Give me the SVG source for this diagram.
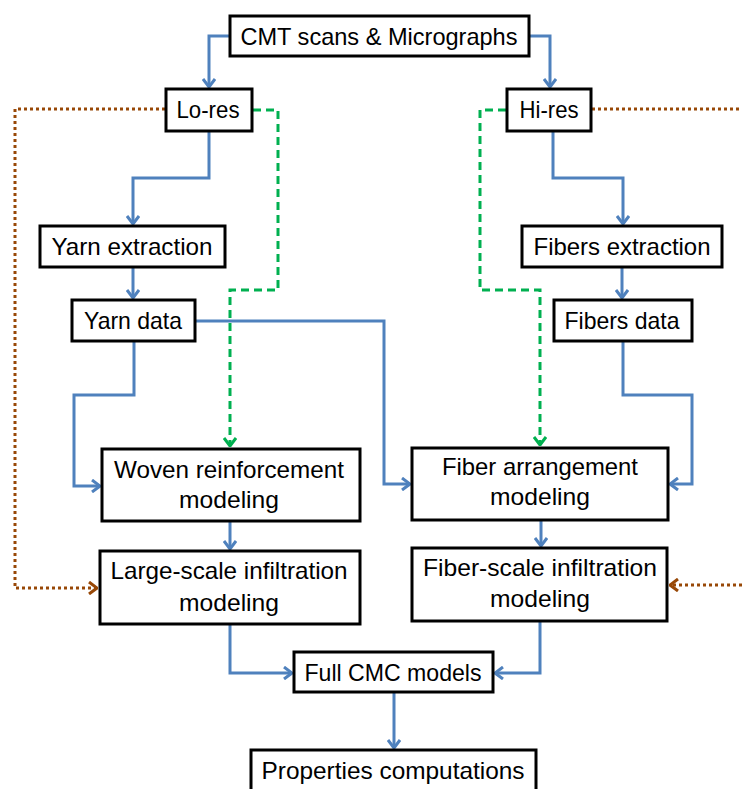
<svg xmlns="http://www.w3.org/2000/svg" width="742" height="789" viewBox="0 0 742 789">
<style>
.box{fill:#fff;stroke:#000;stroke-width:3}
.t{font-family:"Liberation Sans",Arial,sans-serif;font-size:24px;fill:#000;text-anchor:middle}
.b{fill:none;stroke:#4F81BD;stroke-width:3}
.g{fill:none;stroke:#00B050;stroke-width:3;stroke-dasharray:8,5}
.o{fill:none;stroke:#984807;stroke-width:3;stroke-dasharray:3,3}
</style>
<defs>
<marker id="ab" markerUnits="userSpaceOnUse" viewBox="0 0 10 14" markerWidth="10" markerHeight="14" refX="9" refY="7" orient="auto"><path d="M1,1 L9,7 L1,13" fill="none" stroke="#4F81BD" stroke-width="3"/></marker>
<marker id="ag" markerUnits="userSpaceOnUse" viewBox="0 0 10 14" markerWidth="10" markerHeight="14" refX="9" refY="7" orient="auto"><path d="M1,1 L9,7 L1,13" fill="none" stroke="#00B050" stroke-width="3"/></marker>
<marker id="ao" markerUnits="userSpaceOnUse" viewBox="0 0 10 14" markerWidth="10" markerHeight="14" refX="9" refY="7" orient="auto"><path d="M1,1 L9,7 L1,13" fill="none" stroke="#984807" stroke-width="3"/></marker>
</defs>
<rect width="742" height="789" fill="#fff"/>
<g id="connectors">
<path class="o" d="M165,109 H15 V588 H97" marker-end="url(#ao)"/>
<path class="o" d="M592,109 H742"/>
<path class="o" d="M742,585 H670" marker-end="url(#ao)"/>
<path class="g" d="M253,110 H278 V290 H230 V446" marker-end="url(#ag)"/>
<path class="g" d="M506,110 H480 V290 H540 V445" marker-end="url(#ag)"/>
<path class="b" d="M229,36 H209 V87" marker-end="url(#ab)"/>
<path class="b" d="M530,36 H550 V87" marker-end="url(#ab)"/>
<path class="b" d="M209,132 V178 H133 V224" marker-end="url(#ab)"/>
<path class="b" d="M553,132 V178 H623 V224" marker-end="url(#ab)"/>
<path class="b" d="M133,268 V298" marker-end="url(#ab)"/>
<path class="b" d="M622,268 V298" marker-end="url(#ab)"/>
<path class="b" d="M134,342 V395 H74 V486 H100" marker-end="url(#ab)"/>
<path class="b" d="M196,321 H384 V484 H410" marker-end="url(#ab)"/>
<path class="b" d="M623,342 V395 H692 V484 H670" marker-end="url(#ab)"/>
<path class="b" d="M230,522 V549" marker-end="url(#ab)"/>
<path class="b" d="M541,521 V546" marker-end="url(#ab)"/>
<path class="b" d="M230,625 V673 H292" marker-end="url(#ab)"/>
<path class="b" d="M540,622 V673 H495" marker-end="url(#ab)"/>
<path class="b" d="M394,693 V748" marker-end="url(#ab)"/>
</g>
<g id="cmt"><rect class="box" x="230" y="16" width="299" height="40"/><text class="t" x="379" y="45" textLength="277" lengthAdjust="spacingAndGlyphs">CMT scans &amp; Micrographs</text></g>
<g id="lores"><rect class="box" x="166" y="89" width="86" height="42"/><text class="t" x="208" y="118" textLength="63" lengthAdjust="spacingAndGlyphs">Lo-res</text></g>
<g id="hires"><rect class="box" x="507" y="89" width="84" height="42"/><text class="t" x="549" y="118" textLength="59" lengthAdjust="spacingAndGlyphs">Hi-res</text></g>
<g id="yarnext"><rect class="box" x="40" y="226" width="185" height="41"/><text class="t" x="132" y="255" textLength="161" lengthAdjust="spacingAndGlyphs">Yarn extraction</text></g>
<g id="fibext"><rect class="box" x="522" y="226" width="200" height="41"/><text class="t" x="622" y="255" textLength="177" lengthAdjust="spacingAndGlyphs">Fibers extraction</text></g>
<g id="yarndata"><rect class="box" x="72" y="300" width="123" height="41"/><text class="t" x="133" y="329" textLength="98" lengthAdjust="spacingAndGlyphs">Yarn data</text></g>
<g id="fibdata"><rect class="box" x="554" y="300" width="138" height="41"/><text class="t" x="622" y="329" textLength="115" lengthAdjust="spacingAndGlyphs">Fibers data</text></g>
<g id="woven"><rect class="box" x="102" y="449" width="258" height="72"/><text class="t" x="229" y="478" textLength="230" lengthAdjust="spacingAndGlyphs">Woven reinforcement</text><text class="t" x="229" y="508" textLength="100" lengthAdjust="spacingAndGlyphs">modeling</text></g>
<g id="fibarr"><rect class="box" x="412" y="448" width="256" height="72"/><text class="t" x="540" y="475" textLength="196" lengthAdjust="spacingAndGlyphs">Fiber arrangement</text><text class="t" x="540" y="505" textLength="100" lengthAdjust="spacingAndGlyphs">modeling</text></g>
<g id="largescale"><rect class="box" x="100" y="551" width="260" height="73"/><text class="t" x="229" y="579" textLength="237" lengthAdjust="spacingAndGlyphs">Large-scale infiltration</text><text class="t" x="229" y="611" textLength="100" lengthAdjust="spacingAndGlyphs">modeling</text></g>
<g id="fiberscale"><rect class="box" x="412" y="548" width="255" height="73"/><text class="t" x="540" y="576" textLength="234" lengthAdjust="spacingAndGlyphs">Fiber-scale infiltration</text><text class="t" x="540" y="607" textLength="100" lengthAdjust="spacingAndGlyphs">modeling</text></g>
<g id="fullcmc"><rect class="box" x="294" y="652" width="199" height="40"/><text class="t" x="393" y="681" textLength="177" lengthAdjust="spacingAndGlyphs">Full CMC models</text></g>
<g id="props"><rect class="box" x="251" y="750" width="285" height="50"/><text class="t" x="393" y="779" textLength="263" lengthAdjust="spacingAndGlyphs">Properties computations</text></g>
</svg>
